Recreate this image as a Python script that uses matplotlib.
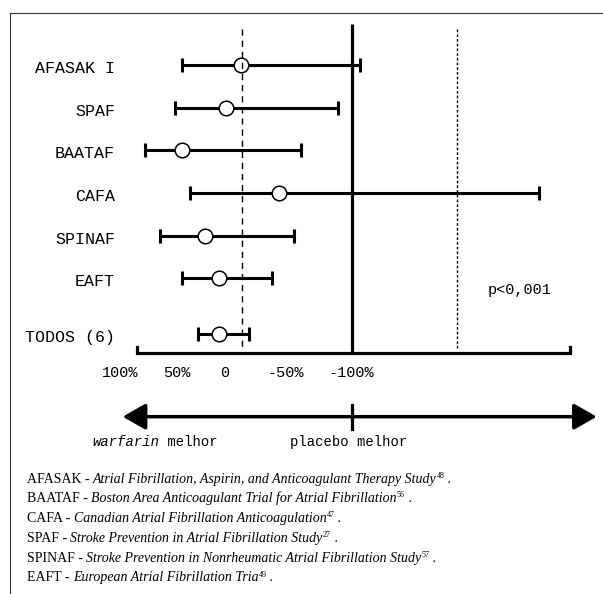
"""Forest plot: warfarin vs placebo in atrial fibrillation trials."""

import matplotlib

matplotlib.use("Agg")

import matplotlib.pyplot as plt
import matplotlib.transforms as mtransforms
from matplotlib.lines import Line2D
from matplotlib.patches import FancyArrowPatch

# study rows, top to bottom; x values on the chart's own scale
# (0 under the "0" label, -100 under the "-100%" label)
STUDIES = ["AFASAK I", "SPAF", "BAATAF", "CAFA", "SPINAF", "EAFT", "TODOS (6)"]
POINT = [-13, -1, 34, -43, 16, 4.5, 4.5]
CI_LEFT = [34, 40, 63.5, 28, 51.5, 34, 21.5]
CI_RIGHT = [-107, -90, -60, -249, -54.5, -37, -19]

TICK_VALUES = [83, 38, 0, -48, -100]
TICK_LABELS = ["100%", "50%", "0", "-50%", "-100%"]

NO_EFFECT = -101
REF_LEFT = -13.3
REF_RIGHT = -184
AXIS_LEFT = 70
AXIS_RIGHT = -274
P_VALUE = "p<0,001"

FOOT_ABBR = ["AFASAK", "BAATAF", "CAFA", "SPAF", "SPINAF", "EAFT"]
FOOT_NAME = [
    "Atrial Fibrillation, Aspirin, and Anticoagulant Therapy Study",
    "Boston Area Anticoagulant Trial for Atrial Fibrillation",
    "Canadian Atrial Fibrillation Anticoagulation",
    "Stroke Prevention in Atrial Fibrillation Study",
    "Stroke Prevention in Nonrheumatic Atrial Fibrillation Study",
    "European Atrial Fibrillation Tria",
]
FOOT_REF = ["48", "56", "47", "27", "57", "49"]

plt.rcParams["font.family"] = ["Liberation Mono", "DejaVu Sans"]
FOOT_FONT = ["Liberation Serif", "DejaVu Serif"]

fig = plt.figure(figsize=(6.03, 5.94), dpi=100)
ax = fig.add_axes([0, 0, 1, 1])
ax.set_xlim(178.6, -300)
ax.set_ylim(12.41, -1.53)
ax.axis("off")

# summary row sits a little apart from the single trials
rows = list(range(len(STUDIES) - 1)) + [len(STUDIES) - 1 + 0.32]
axis_y = 6.75

# reference lines
ax.vlines(NO_EFFECT, -0.97, axis_y, color="black", lw=2.3, zorder=2)
ax.plot([REF_LEFT, REF_LEFT], [-0.85, 6.64], color="black", lw=1.0,
        dashes=(4.5, 3.5), zorder=5)
ax.plot([REF_RIGHT, REF_RIGHT], [-0.85, 6.64], color="black", lw=1.0,
        dashes=(2.0, 1.4), zorder=5)

# confidence intervals and point estimates
xerr = [[p - r for p, r in zip(POINT, CI_RIGHT)],
        [l - p for p, l in zip(POINT, CI_LEFT)]]
ax.errorbar(POINT, rows, xerr=xerr, fmt="none", ecolor="black",
            elinewidth=2.2, capsize=4.7, capthick=2.2, zorder=3)
ax.plot(POINT, rows, "o", mfc="white", mec="black", ms=10.5, mew=1.1, zorder=4)

for name, y in zip(STUDIES, rows):
    ax.text(87.3, y + 0.08, name, ha="right", va="center", fontsize=12)

# bottom scale with end ticks
ax.plot([AXIS_LEFT, AXIS_LEFT, AXIS_RIGHT, AXIS_RIGHT],
        [axis_y - 0.14, axis_y, axis_y, axis_y - 0.14],
        color="black", lw=2.3, solid_joinstyle="miter", zorder=3)
for v, lab in zip(TICK_VALUES, TICK_LABELS):
    ax.text(v, 7.22, lab, ha="center", va="center", fontsize=11)

ax.text(-234, 5.28, P_VALUE, ha="center", va="center", fontsize=11)

# direction arrow
blend = mtransforms.blended_transform_factory(ax.transData, fig.transFigure)
arrow = FancyArrowPatch((0.2035, 0.2985), (0.9896, 0.2985),
                        transform=fig.transFigure,
                        arrowstyle="<|-|>,head_length=1.4,head_width=0.8",
                        mutation_scale=10, lw=2.5, color="black",
                        shrinkA=0, shrinkB=0)
fig.patches.append(arrow)
ax.plot([NO_EFFECT, NO_EFFECT], [0.318, 0.278], color="black", lw=2.3,
        transform=blend)


def chained_text(x, y, parts, family=None):
    family = family or plt.rcParams["font.family"]
    text, style, size, _ = parts[0]
    prev = ax.text(x, y, text, transform=fig.transFigure, ha="left",
                   va="center", fontsize=size, style=style, family=family)
    for text, style, size, rise in parts[1:]:
        prev = ax.annotate(text, xy=(1, 0), xycoords=prev, xytext=(0, rise),
                           textcoords="offset points", ha="left", va="bottom",
                           fontsize=size, style=style, family=family)


chained_text(0.1526, 0.2564, [("warfarin", "italic", 10, 0),
                              (" melhor", "normal", 10, 0)])
chained_text(0.481, 0.2564, [("placebo melhor", "normal", 10, 0)])

for i, (abbr, name, ref) in enumerate(zip(FOOT_ABBR, FOOT_NAME, FOOT_REF)):
    chained_text(0.0443, 0.1936 - i * 0.0333,
                 [(f"{abbr} - ", "normal", 10, 0),
                  (name, "italic", 10, 0),
                  (ref, "normal", 5.8, 4.2),
                  (" .", "normal", 10, -4.2)],
                 family=FOOT_FONT)

# frame (open to the right and bottom)
fig.add_artist(Line2D([10 / 603, 1], [1 - 13.3 / 594] * 2,
                      transform=fig.transFigure, color="#333333", lw=0.8))
fig.add_artist(Line2D([10 / 603] * 2, [0, 1 - 13.3 / 594],
                      transform=fig.transFigure, color="#333333", lw=0.8))

fig.savefig("out.png", dpi=100, facecolor="white")
